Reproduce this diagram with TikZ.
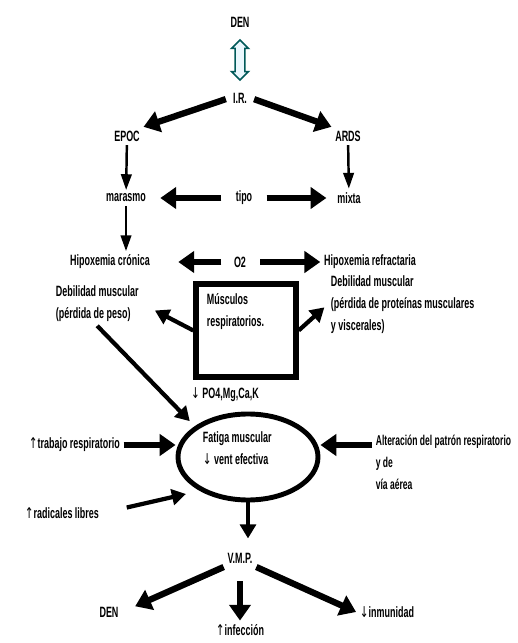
\documentclass[tikz,border=0pt]{standalone}
\usepackage{fontspec}
\setmainfont{Liberation Sans}[FakeStretch=0.6]
\newfontfamily\arrowfont{DejaVu Sans}[FakeStretch=0.7]
\newcommand\uparr{{\arrowfont\mdseries ↑}}
\newcommand\downarr{{\arrowfont\mdseries ↓}}
\usetikzlibrary{arrows.meta,shapes.geometric,shapes.arrows,calc}
\begin{document}
\begin{tikzpicture}[
	lbl/.style={anchor=center, align=center, inner sep=2pt, font=\fontsize{8.5}{12.5}\selectfont\bfseries},
	lbll/.style={lbl, anchor=west, align=left},
	fatarrow/.style={line width=3.6pt, -{Triangle[length=9pt, width=12pt]}},
	midarrow/.style={line width=2.4pt, -{Triangle[length=8pt, width=9pt]}},
	thinarrow/.style={line width=1.4pt, -{Triangle[length=9pt, width=6pt]}}]
	\useasboundingbox (0,0) rectangle (10.36,12.86);
	% top part
	\node[lbl] (dentop) at (4.8,12.42) {DEN};
	\node[lbl] (ir) at (4.8,10.9) {I.R.};
	\node[double arrow, draw=teal!70!black, fill=cyan!8, line width=0.9pt, rotate=90, minimum height=0.8cm, inner sep=2.3pt, double arrow head extend=2pt] (denir) at ($(dentop)!0.5!(ir)$) {};
	\node[lbl] (epoc) at (2.54,10.14) {EPOC};
	\node[lbl] (ards) at (6.96,10.14) {ARDS};
	\node[lbl] (marasmo) at (2.52,8.9) {marasmo};
	\node[lbl] (tipo) at (4.88,8.9) {tipo};
	\node[lbl] (mixta) at (6.98,8.9) {mixta};
	\draw[fatarrow, shorten <=2pt] (ir.west) -- (epoc.north east);
	\draw[fatarrow, shorten <=2pt] (ir.east) -- (ards.north west);
	\draw[thinarrow] (epoc) -- (marasmo);
	\draw[thinarrow] (ards) -- (mixta);
	\draw[fatarrow, shorten <=6pt, shorten >=6pt] (tipo) -- (marasmo);
	\draw[fatarrow, shorten <=6pt, shorten >=4pt] (tipo) -- (mixta);
	% hipoxemia
	\node[lbl] (hipcron) at (2.2,7.62) {Hipoxemia crónica};
	\node[lbl] (o2) at (4.8,7.62) {O2};
	\node[lbl] (hiprefr) at (7.4,7.62) {Hipoxemia refractaria};
	\draw[thinarrow] (marasmo.south) -- (marasmo.south |- hipcron.north);
	\draw[fatarrow, shorten <=5pt, shorten >=14pt] (o2) -- (hipcron);
	\draw[fatarrow, shorten <=6pt] (o2) -- (hiprefr);
	% musculos respiratorios
	\node[draw, line width=3pt, minimum width=2.0cm, minimum height=1.86cm] (muscbox) at (4.92,6.25) {};
	\node[lbll, anchor=north west] (musctxt) at (4.06,7.06) {Músculos\\respiratorios.};
	\node[lbll] (debill) at (1.04,6.78) {Debilidad muscular\\(pérdida de peso)};
	\node[lbll] (debilr) at (6.54,6.76) {Debilidad muscular\\(pérdida de proteínas musculares\\y viscerales)};
	\draw[midarrow, shorten >=8pt] (muscbox.west) -- (debill.east);
	\draw[midarrow, shorten >=2pt] (muscbox.east) -- (debilr.west);
	% fatiga
	\node[ellipse, draw, line width=2.8pt, minimum width=2.8cm, minimum height=1.72cm] (fatiga) at (4.96,3.72) {};
	\node[lbll] (fatigatxt) at (3.98,3.9) {Fatiga muscular\\\downarr{} vent efectiva};
	\node[lbl] (po4) at (4.5,4.96) {\downarr{} PO4,Mg,Ca,K};
	\node[lbll] (trabajo) at (0.5,3.96) {\uparr trabajo respiratorio};
	\node[lbll, anchor=north west, font=\fontsize{8.1}{12.5}\selectfont\bfseries] (alter) at (7.44,4.24) {Alteración del patrón respiratorio\\y de\\vía aérea};
	\node[lbll] (radic) at (0.42,2.6) {\uparr radicales libres};
	\draw[midarrow, shorten >=4pt] (debill.south) -- (fatiga.150);
	\draw[fatarrow] (trabajo.east) -- (trabajo.east -| fatiga.west);
	\draw[fatarrow] (alter.west |- trabajo) -- (fatiga.east |- trabajo);
	\draw[midarrow, shorten <=14pt, shorten >=8pt] (radic.east) -- (fatiga.215);
	% consecuencias
	\node[lbl] (vmp) at (4.8,1.7) {V.M.P.};
	\node[lbl] (denbot) at (2.18,0.62) {DEN};
	\node[lbl] (infec) at (4.8,0.26) {\uparr infección};
	\node[lbl] (inmun) at (7.74,0.62) {\downarr inmunidad};
	\draw[midarrow, shorten >=6pt] (fatiga.south) -- (fatiga.south |- vmp.north);
	\draw[fatarrow, shorten >=8pt] (vmp.south west) -- (denbot.east);
	\draw[fatarrow, shorten <=8pt] (vmp.south) -- (infec.north);
	\draw[fatarrow] (vmp.south east) -- (inmun.west);
\end{tikzpicture}
\end{document}
